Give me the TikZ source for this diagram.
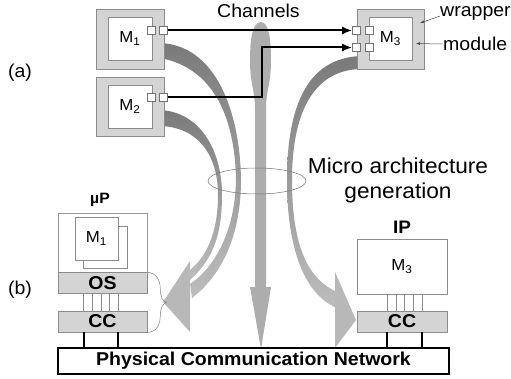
\documentclass[tikz,border=0pt]{standalone}
\usepackage{fontspec}
\setmainfont{Liberation Sans}[FakeStretch=1.05]
\usetikzlibrary{arrows.meta}
\def\portsize{8}

\begin{document}
\begin{tikzpicture}[x=1pt, y=-1pt, inner sep=0pt, font=\fontsize{18.6}{22}\selectfont]
    \tikzstyle{box}=[draw=black!45, line width=0.6pt]
    \tikzstyle{wrapper}=[box, fill=black!17, minimum width=68, minimum height=60]
    \tikzstyle{module}=[box, fill=white, minimum width=44, minimum height=43, font=\fontsize{16}{19}\selectfont]
    \tikzstyle{port}=[box, draw=black!55, fill=white, minimum size=\portsize]
    \tikzstyle{layer}=[box, fill=black!17, minimum width=89, minimum height=20.5, font=\bfseries\fontsize{18.6}{22}\selectfont]
    \tikzstyle{channel}=[draw=black, line width=2pt, -{Latex[length=10pt,width=8pt]}]
    \tikzstyle{pointer}=[draw=black!70, line width=0.5pt, -{Latex[length=4pt,width=3pt]}]
    \tikzstyle{ribbon}=[top color=black!52, bottom color=black!26, draw=none]
    \tikzstyle{head}=[fill=black!28]
    \tikzstyle{wire}=[draw=black!45, line width=0.6pt]
    \tikzstyle{bus}=[draw=black, line width=2pt]

    \useasboundingbox (0,0) rectangle (511,379);

    % Draw the generation flow (vertical arrow and ribbons)
    \fill[black!32] (261,22) .. controls (251,22) and (250,45) .. (250,62)
        .. controls (250,82) and (255,92) .. (255,108) -- (255,287) -- (250,287)
        -- (261,349) -- (271,287) -- (266,287) -- (266,108)
        .. controls (266,92) and (271,82) .. (271,62)
        .. controls (271,45) and (270,22) .. (261,22) -- cycle;
    \shade[ribbon] (160,43) .. controls (215,45) and (240,110) .. (241,180)
        .. controls (241,235) and (222,275) .. (192,298) -- (190,284)
        .. controls (214,268) and (235,232) .. (236,180)
        .. controls (235,120) and (215,68) .. (160,58) -- cycle;
    \shade[ribbon] (160,110) .. controls (200,112) and (222,150) .. (222,195)
        .. controls (222,240) and (210,262) .. (190,280) -- (190,270)
        .. controls (205,258) and (218,235) .. (218,195)
        .. controls (218,155) and (198,127) .. (160,126) -- cycle;
    \shade[ribbon] (361,56) .. controls (305,58) and (287,110) .. (287,180)
        .. controls (287,250) and (305,295) .. (337,308) -- (337,292)
        .. controls (310,280) and (292,250) .. (292,180)
        .. controls (292,115) and (312,70) .. (361,69) -- cycle;
    \fill[head] (163,302) -- (190,261) -- (190,332) -- cycle;
    \fill[head] (356,320) -- (335,272) -- (335,348) -- cycle;

    % Draw the wrapped modules
    \node[wrapper] (W1) at (130,39) {};
    \node[module] (M1) at (130,38.5) {M\textsubscript{1}};
    \node[wrapper, minimum height=59] (W2) at (130,106.5) {};
    \node[module] (M2) at (130,106.5) {M\textsubscript{2}};
    \node[wrapper, minimum width=67] (W3) at (390.5,39) {};
    \node[module, minimum width=43] (M3) at (390.5,38.5) {M\textsubscript{3}};

    % Draw the ports
    \foreach \name / \x / \y in {1a/151/30.5, 1b/163.5/30.5, 2a/151/97.5, 2b/163.5/97.5,
                                 3a/356.5/30.5, 3b/369/30.5, 3c/356.5/47.5, 3d/369/47.5}
        \node[port] (P\name) at (\x,\y) {};

    % Connect the ports by channels
    \coordinate (bend) at (262,0);
    \draw[channel] (P1b.east) -- (P3a.west);
    \draw[channel] (P2b.east) -- (P2b.east -| bend) -- (bend |- P3c.west) -- (P3c.west);

    % Annotate the wrapper
    \node[anchor=west] (wraptxt) at (440,13) {wrapper};
    \node[anchor=west] (modtxt) at (443,44) {module};
    \coordinate (wrapedge) at (420,23);
    \coordinate (modedge) at (416,43.5);
    \draw[pointer] (wraptxt.base west) -- (wrapedge);
    \draw[pointer] (modtxt.west) -- (modedge);

    \draw[black!55, line width=0.5pt] (257,181) ellipse [x radius=49, y radius=13];

    % Annotate the levels
    \node (chan) at (258.5,11) {Channels};
    \node[align=center, font=\fontsize{21.6}{25}\selectfont] (gen) at (398,180) {Micro architecture\\generation};
    \node (lbla) at (20,73) {(a)};
    \node (lblb) at (20,290) {(b)};

    % Draw the processor side
    \node[font=\bfseries\fontsize{15}{18}\selectfont] (uplbl) at (100,200) {µP};
    \node[box, draw=black!40, minimum width=89, minimum height=60] (uP) at (102.5,243) {};
    \node[box, fill=white, minimum width=44, minimum height=42] (M1b) at (105,247) {};
    \node[module, minimum width=43] (M1f) at (96.5,238.5) {M\textsubscript{1}};
    \node[layer] (OS) at (102.5,283) {OS};
    \node[layer, minimum height=21] (CC1) at (102.5,321.5) {CC};
    \foreach \x in {83,92,101,109,118}
        \draw[wire] (\x,0 |- OS.south) -- (\x,0 |- CC1.north);
    \draw[draw=black!50, line width=0.5pt] (OS.north east) .. controls +(10,0) and +(0,-8) .. ++(13,17)
        .. controls +(0,8) and +(-3,-1) .. ++(6,13)
        .. controls +(-3,1) and +(0,-8) .. ++(-6,13)
        .. controls +(0,8) and +(10,0) .. (CC1.south east);

    % Draw the IP side
    \node[font=\bfseries\fontsize{18.1}{21}\selectfont] (iplbl) at (402,227) {IP};
    \node[box, fill=white, minimum width=90, minimum height=55, font=\fontsize{16}{19}\selectfont] (IP) at (402,266.5) {M\textsubscript{3}};
    \node[layer, minimum width=90, minimum height=21] (CC2) at (402,321.5) {CC};
    \foreach \x in {387,396,404,413,422}
        \draw[wire] (\x,0 |- IP.south) -- (\x,0 |- CC2.north);

    % Draw the network
    \node[draw=black, line width=2pt, fill=white, minimum width=391, minimum height=26,
          font=\bfseries\fontsize{18.6}{22}\selectfont] (net) at (253.5,361) {Physical Communication Network};
    \foreach \x in {84,118}
        \draw[bus] (\x,0 |- CC1.south) -- (\x,0 |- net.north);
    \foreach \x in {387,422}
        \draw[bus] (\x,0 |- CC2.south) -- (\x,0 |- net.north);
\end{tikzpicture}
\end{document}
